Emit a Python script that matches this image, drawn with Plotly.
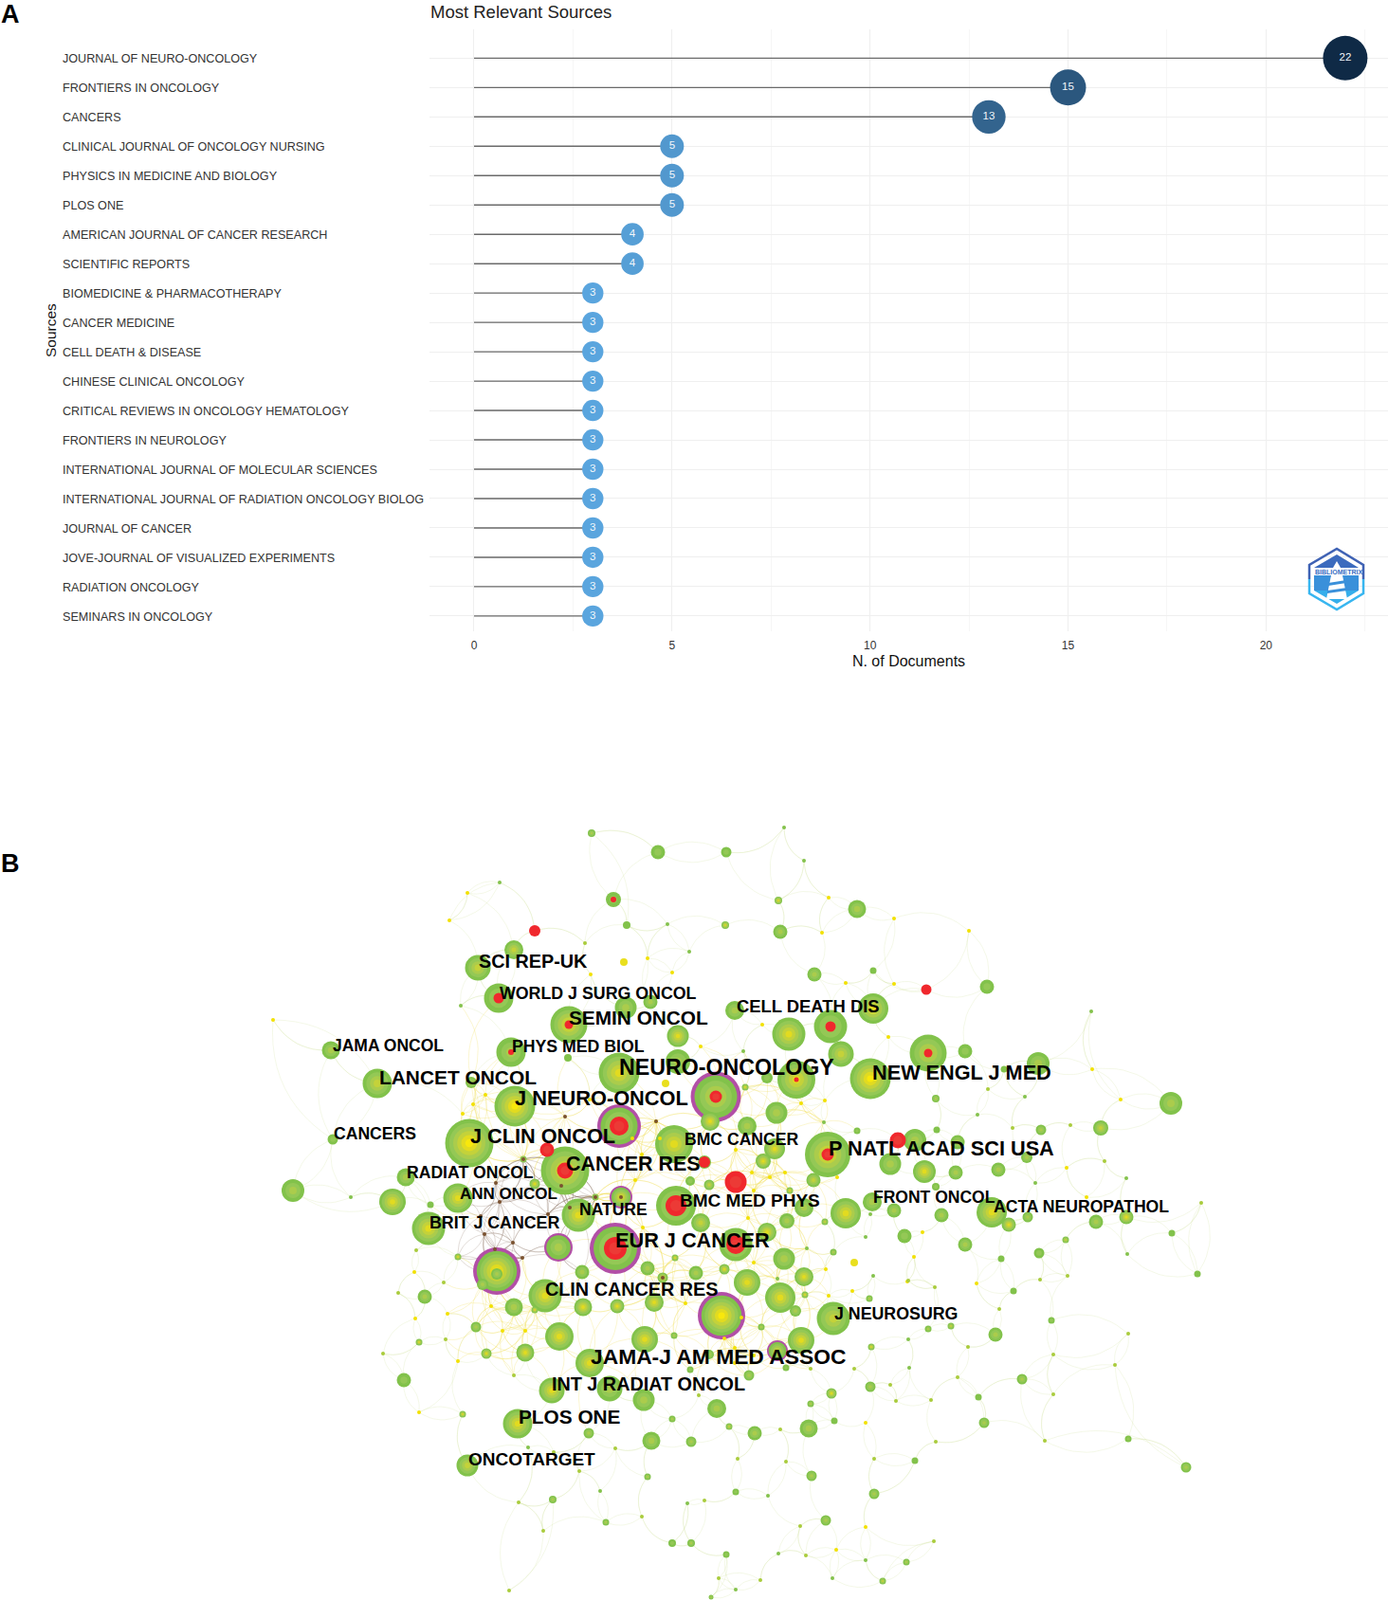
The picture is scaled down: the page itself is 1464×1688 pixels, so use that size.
import numpy as np
import plotly.graph_objects as go

# panel A - most relevant sources
sources = [
    "JOURNAL OF NEURO-ONCOLOGY", "FRONTIERS IN ONCOLOGY", "CANCERS",
    "CLINICAL JOURNAL OF ONCOLOGY NURSING", "PHYSICS IN MEDICINE AND BIOLOGY", "PLOS ONE",
    "AMERICAN JOURNAL OF CANCER RESEARCH", "SCIENTIFIC REPORTS", "BIOMEDICINE & PHARMACOTHERAPY",
    "CANCER MEDICINE", "CELL DEATH & DISEASE", "CHINESE CLINICAL ONCOLOGY",
    "CRITICAL REVIEWS IN ONCOLOGY HEMATOLOGY", "FRONTIERS IN NEUROLOGY",
    "INTERNATIONAL JOURNAL OF MOLECULAR SCIENCES", "INTERNATIONAL JOURNAL OF RADIATION ONCOLOGY BIOLOG",
    "JOURNAL OF CANCER", "JOVE-JOURNAL OF VISUALIZED EXPERIMENTS", "RADIATION ONCOLOGY", "SEMINARS IN ONCOLOGY",
]
documents = [22, 15, 13, 5, 5, 5, 4, 4, 3, 3, 3, 3, 3, 3, 3, 3, 3, 3, 3, 3]

# panel B - co-citation network (page pixels)
node_x = [624, 694, 647, 661, 542, 504, 526, 660, 686, 600, 715, 349, 539, 599, 715, 653, 398, 497, 543, 653,
          495, 351, 577, 596, 711, 743, 552, 309, 428, 564, 728, 414, 483, 454, 655, 628, 610, 713, 649, 589,
          524, 524, 509, 452, 614, 683, 699, 712, 483, 766, 821, 765, 904, 823, 859, 921, 977, 1041, 775, 921,
          876, 832, 1018, 1095, 1059, 1235, 987, 1098, 1161, 988, 904, 1083, 1010, 1053, 1008, 755, 749, 786, 809, 840,
          819, 788, 817, 805, 748, 776, 833, 858, 873, 947, 965, 939, 975, 887, 979, 918, 848, 892, 920, 943,
          993, 987, 954, 879, 870, 830, 809, 776, 739, 827, 788, 848, 764, 734, 1046, 1064, 1084, 1156, 1188, 1236,
          1263, 1124, 1096, 1056, 1018, 1069, 917, 823, 849, 839, 879, 761, 803, 845, 820, 829, 919, 979, 1003, 1050,
          1109, 1078, 918, 877, 1032, 1038, 1190, 1251, 965, 880, 853, 855, 796, 790, 769, 756, 856, 922, 776, 871,
          766, 956, 931, 448, 575, 542, 564, 615, 651, 690, 502, 590, 680, 711, 442, 513, 554, 622, 426, 582,
          643, 679, 728, 748, 488, 546, 621, 709, 687, 729, 683, 583, 639, 709, 729, 750, 493, 564]
node_y = [879, 899, 949, 976, 1002, 1021, 1053, 1063, 1057, 1081, 1093, 1108, 1110, 1116, 1120, 1132, 1143, 1142, 1167, 1188,
          1206, 1202, 1213, 1235, 1207, 1226, 1223, 1256, 1242, 1249, 1246, 1268, 1264, 1271, 1263, 1263, 1282, 1272, 1317, 1316,
          1341, 1344, 1355, 1296, 1342, 1338, 1348, 1327, 1326, 899, 950, 976, 959, 983, 1028, 1024, 1044, 1041, 1066, 1064,
          1083, 1091, 1109, 1122, 1128, 1164, 1159, 1192, 1190, 1192, 1193, 1221, 1205, 1234, 1237, 1157, 1183, 1147, 1137, 1139,
          1174, 1188, 1212, 1225, 1250, 1247, 1256, 1245, 1218, 1203, 1203, 1228, 1236, 1112, 1111, 1138, 1274, 1280, 1268, 1277,
          1282, 1252, 1304, 1321, 1289, 1288, 1300, 1313, 1290, 1328, 1353, 1347, 1339, 1343, 1279, 1292, 1284, 1289, 1284, 1301,
          1344, 1308, 1322, 1328, 1313, 1362, 1370, 1369, 1366, 1383, 1391, 1388, 1400, 1414, 1425, 1443, 1421, 1402, 1399, 1408,
          1393, 1455, 1463, 1470, 1474, 1501, 1518, 1548, 1541, 1499, 1507, 1481, 1512, 1451, 1505, 1486, 1557, 1576, 1574, 1604,
          1640, 1648, 1668, 1368, 1367, 1379, 1382, 1379, 1378, 1374, 1400, 1410, 1413, 1409, 1416, 1428, 1427, 1438, 1456, 1467,
          1465, 1477, 1445, 1429, 1492, 1502, 1512, 1497, 1520, 1521, 1558, 1582, 1606, 1628, 1628, 1685, 1546, 982]
node_size = [8, 15, 16, 8, 20, 27, 31, 23, 15, 39, 23, 19, 31, 8, 26, 43, 31, 12, 43, 46,
             51, 11, 15, 51, 40, 14, 7, 24, 19, 11, 10, 28, 31, 7, 24, 7, 35, 42, 54, 30,
             50, 12, 12, 35, 15, 15, 11, 7, 7, 11, 8, 8, 19, 15, 15, 7, 11, 15, 20, 32,
             35, 35, 15, 24, 7, 24, 8, 11, 16, 7, 7, 12, 15, 15, 15, 53, 20, 7, 12, 40,
             23, 20, 22, 16, 11, 23, 7, 15, 48, 17, 24, 23, 24, 27, 39, 43, 20, 32, 20, 15,
             15, 8, 15, 7, 7, 16, 20, 35, 20, 23, 28, 20, 11, 15, 32, 15, 11, 15, 15, 7,
             7, 7, 11, 7, 15, 7, 7, 32, 7, 12, 35, 50, 7, 28, 22, 7, 7, 7, 7, 15,
             7, 11, 11, 11, 7, 11, 7, 11, 7, 7, 19, 7, 15, 11, 7, 20, 11, 11, 7, 11,
             7, 7, 7, 15, 35, 19, 7, 19, 15, 20, 11, 30, 28, 7, 7, 11, 19, 30, 15, 27,
             27, 23, 7, 10, 7, 31, 11, 7, 19, 11, 7, 8, 7, 8, 8, 5, 23, 12]
node_heat = [.3, .2, .2, .1, .6, .6, .5, .5, .4, .7, .9, .5, .5, .1, .4, .9, .6, .3, 1, .6,
             1, .2, 0, .7, .9, .3, .8, .4, .5, .9, .2, .7, .7, .1, .9, .8, .9, .6, .6, .5,
             1, .4, .3, .9, .4, .5, .8, .9, .8, .2, .7, .7, .4, .3, .5, .1, 0, .2, .4, .8,
             .5, .9, .2, .5, .1, .4, .3, .4, .6, .1, .2, .3, .5, .3, .3, .6, .9, .7, .2, .9,
             .3, .4, .7, .7, .6, 0, .9, .6, .9, 0, .5, .5, .7, .6, .6, 1, .5, .8, .5, .4,
             .4, .2, .2, .4, .6, .5, .8, .6, .6, .5, .8, .7, .9, .5, .8, .9, .5, .3, .7, .1,
             .1, .6, .2, .1, .3, .1, .5, .8, .7, .3, .6, 1, .3, .8, .6, .2, .7, .3, .6, .3,
             .2, .3, .3, .8, .1, .3, .2, .3, .1, .1, .4, .4, .4, .5, .6, .5, .4, .3, .2, .3,
             .2, .3, .6, .3, .9, .5, .8, .8, .7, .7, .5, .7, .7, .3, .8, .9, .7, .7, .2, .7,
             .5, .4, .2, .3, .7, .7, .3, .4, .4, .3, .4, .4, .3, .2, .3, .4, .6, 0]

burst_x = [647, 526, 600, 539, 653, 577, 596, 743, 713, 649, 977, 876, 755, 840, 873, 947, 979, 776, 776, 564]
burst_y = [949, 1053, 1081, 1110, 1188, 1213, 1235, 1226, 1272, 1317, 1044, 1083, 1157, 1139, 1218, 1203, 1111, 1247, 1313, 982]
burst_size = [6, 11, 9, 6, 20, 15, 17, 12, 22, 24, 11, 11, 13, 5, 13, 17, 9, 23, 20, 12]

ring_x = [653, 655, 649, 589, 524, 755, 761, 820]
ring_y = [1188, 1263, 1317, 1316, 1341, 1157, 1388, 1425]

yellow_x = [493, 474, 683, 709, 623, 288, 874, 943, 867, 892, 943, 804, 937, 1022, 1152, 1182, 845, 870, 1125, 1146,
            973, 964, 871, 899, 874, 1030, 437, 518, 472, 438, 530, 554, 483, 442, 913, 913, 882, 499, 512, 488,
            622, 692, 696, 670, 677, 667, 678, 789, 795, 793, 812, 828, 795, 883, 776, 739, 957, 723, 782, 775,
            775, 795, 764]
yellow_y = [942, 971, 1011, 1026, 1028, 1076, 947, 969, 984, 1037, 1038, 1081, 1094, 982, 1128, 1160, 1164, 1161, 1232, 1263,
            1300, 1326, 1339, 1362, 1367, 1354, 1342, 1378, 1386, 1391, 1404, 1404, 1436, 1490, 1501, 1611, 1635, 1165, 1155, 1175,
            1160, 1183, 1201, 1245, 1218, 1201, 1295, 1285, 1332, 1237, 1242, 1237, 1256, 1242, 1213, 1104, 1352, 1375, 1390, 1422,
            1438, 1430, 1412]
blob_x = [658, 702, 901]
blob_y = [1015, 1143, 1332]

lime_x = [1042, 1068, 1129, 1267, 1165, 1126, 1097, 986, 958, 1054, 1190, 1111, 1176, 1021, 1010, 939, 855, 901, 945, 982,
          987, 1102, 1111, 823, 778, 829, 922, 844, 850, 985, 802, 758, 617, 439, 468, 420, 470, 404, 542, 737,
          584, 611, 547, 743, 677, 573, 537, 649]
lime_y = [1149, 1190, 1187, 1269, 1225, 1346, 1350, 1358, 1351, 1381, 1407, 1429, 1440, 1421, 1453, 1461, 1444, 1444, 1478, 1477,
          1521, 1520, 1471, 1508, 1539, 1542, 1539, 1610, 1641, 1626, 1667, 1665, 995, 1319, 1353, 1364, 1413, 1428, 1451, 1472,
          1532, 1552, 1585, 1583, 1600, 1615, 1678, 1528]
green_x = [527, 704, 727, 486, 827, 848, 1151, 784, 1081, 1031, 869, 1188, 1092, 1189, 921, 851, 820, 370, 913, 918,
           958, 959, 810, 821, 913, 878, 776, 557, 633, 725]
green_y = [931, 975, 1004, 1061, 873, 908, 1067, 1109, 1157, 1176, 1184, 1243, 1248, 1323, 1346, 1317, 1349, 1263, 1305, 1281,
           1413, 1443, 1578, 1639, 1646, 1665, 1677, 1527, 1573, 1586]
brown_x = [523, 527, 507, 511, 541, 578, 522, 551, 592, 552, 628, 601, 655, 699, 596, 692]
brown_y = [1248, 1268, 1283, 1302, 1311, 1281, 1318, 1327, 1251, 1223, 1263, 1274, 1263, 1348, 1178, 1183]

labels = ["SCI REP-UK", "WORLD J SURG ONCOL", "SEMIN ONCOL", "JAMA ONCOL", "PHYS MED BIOL", "NEURO-ONCOLOGY",
          "LANCET ONCOL", "J NEURO-ONCOL", "CANCERS", "J CLIN ONCOL", "CANCER RES", "RADIAT ONCOL", "ANN ONCOL",
          "NATURE", "BRIT J CANCER", "EUR J CANCER", "CLIN CANCER RES", "JAMA-J AM MED ASSOC", "INT J RADIAT ONCOL",
          "PLOS ONE", "ONCOTARGET", "CELL DEATH DIS", "NEW ENGL J MED", "BMC CANCER", "P NATL ACAD SCI USA",
          "BMC MED PHYS", "FRONT ONCOL", "ACTA NEUROPATHOL", "J NEUROSURG"]
label_x = [505, 527, 600, 351, 540, 653, 400, 543, 352, 496, 597, 429, 485, 611, 453, 649, 575, 623, 582, 547, 494,
           777, 920, 722, 874, 717, 921, 1048, 880]
label_y = [1016, 1050, 1076, 1105, 1106, 1128, 1139, 1161, 1198, 1201, 1230, 1239, 1261, 1278, 1292, 1311, 1362, 1433,
           1462, 1497, 1541, 1063, 1134, 1204, 1214, 1268, 1265, 1275, 1388]
label_size = [19.8, 17.8, 20.8, 17.5, 17.7, 23.2, 20.9, 21.8, 17.6, 21.7, 21.4, 17.6, 17, 17.5, 17.8, 21.7, 19.8, 22.8,
              19.8, 20.8, 19, 18.4, 21.7, 17.6, 21.7, 19, 17.5, 17.6, 17.8]

assert len(node_x) == len(node_y) == len(node_size) == len(node_heat)
assert len(yellow_x) == len(yellow_y) and len(lime_x) == len(lime_y) and len(green_x) == len(green_y)
assert len(burst_x) == len(burst_y) == len(burst_size) and len(brown_x) == len(brown_y)
assert len(labels) == len(label_x) == len(label_y) == len(label_size)

FONT = "Liberation Sans"
rings = ["#82C24B", "#94C856", "#ABCC4C", "#C4D23A", "#E2DB20", "#F8E80C"]

fig = go.Figure()

# lollipops
stem_x, stem_y = [], []
for name, val in zip(sources, documents):
    stem_x += [0, val, None]
    stem_y += [name, name, None]
fig.add_trace(go.Scatter(x=stem_x, y=stem_y, mode="lines", line=dict(color="#6a6a6a", width=1.4)))
fig.add_trace(go.Scatter(
    x=documents, y=sources, mode="markers+text", text=documents, textposition="middle center",
    textfont=dict(family=FONT, size=11.5, color="#f2f6fa"),
    marker=dict(size=[18.5 + 1.295 * v for v in documents], color=documents, cmin=3, cmax=22, opacity=1,
                colorscale=[[0, "#5AA5DE"], [1, "#0F2A46"]], line=dict(width=0)),
))
# source names sit left aligned, so they go in as annotations
for name in sources:
    fig.add_annotation(x=64, xref="x2", y=name, yref="y", yshift=-1, text=name, showarrow=False, xanchor="left",
                       font=dict(family=FONT, size=12.6, color="#333333"))

# network edges, each point joined to its nearest neighbours with a bent line
all_x = np.array(node_x + yellow_x + lime_x + green_x + brown_x, dtype=float)
all_y = np.array(node_y + yellow_y + lime_y + green_y + brown_y, dtype=float)
edges = {"outer": ([], []), "core": ([], []), "brown": ([], [])}
t = np.linspace(0, 1, 13)
for i in range(len(all_x)):
    dist = np.hypot(all_x - all_x[i], all_y - all_y[i])
    central = abs(all_x[i] - 680) < 190 and abs(all_y[i] - 1290) < 150
    k = 9 if central else 3
    for n, j in enumerate(np.argsort(dist)[1:k + 1]):
        if dist[j] < 1:
            continue
        in_brown = all(480 < all_x[m] < 630 and 1215 < all_y[m] < 1345 for m in (i, j))
        group = "brown" if in_brown else "core" if central else "outer"
        dx, dy = all_x[j] - all_x[i], all_y[j] - all_y[i]
        bend = 0.3 if (i + n) % 2 else -0.3
        cx = (all_x[i] + all_x[j]) / 2 - dy * bend
        cy = (all_y[i] + all_y[j]) / 2 + dx * bend
        xs = (1 - t) ** 2 * all_x[i] + 2 * t * (1 - t) * cx + t ** 2 * all_x[j]
        ys = (1 - t) ** 2 * all_y[i] + 2 * t * (1 - t) * cy + t ** 2 * all_y[j]
        edges[group][0].extend(list(xs) + [None])
        edges[group][1].extend(list(ys) + [None])
edge_colors = {"outer": "rgba(195,215,130,0.26)", "core": "rgba(240,222,80,0.38)", "brown": "rgba(115,85,65,0.3)"}
for group, (ex, ey) in edges.items():
    fig.add_trace(go.Scatter(x=ex, y=ey, xaxis="x2", yaxis="y2", mode="lines",
                             line=dict(color=edge_colors[group], width=0.7)))

# nodes are stacks of circles, largest first so the small ones stay visible
bursts = {(x, y): s for x, y, s in zip(burst_x, burst_y, burst_size)}
purple = set(zip(ring_x, ring_y))
px, py, ps, pc = [], [], [], []
for i in np.argsort(node_size)[::-1]:
    x, y, d, heat = node_x[i], node_y[i], node_size[i], node_heat[i]
    burst = bursts.get((x, y), 0)
    if (x, y) in purple:
        px.append(x), py.append(y), ps.append(d), pc.append("#B24FA6")
        d = d * 0.85
    if burst < d:
        steps = round(heat * 5)
        for s in range(steps + 1):
            px.append(x), py.append(y), ps.append(d * (1 - s / (steps + 1))), pc.append(rings[s])
    if burst:
        px.append(x), py.append(y), ps.append(burst), pc.append("#F0282D")
        if burst > 12:
            px.append(x), py.append(y), ps.append(burst * 0.55), pc.append("#EC3A36")
fig.add_trace(go.Scatter(x=blob_x, y=blob_y, xaxis="x2", yaxis="y2", mode="markers",
                         marker=dict(size=8, color="#E9DF1E", opacity=1, line=dict(width=0))))
fig.add_trace(go.Scatter(x=px, y=py, xaxis="x2", yaxis="y2", mode="markers",
                         marker=dict(size=ps, color=pc, opacity=1, line=dict(width=0))))
for dot_x, dot_y, color in [(yellow_x, yellow_y, "#F2E100"), (lime_x, lime_y, "#A9CC3C"),
                            (green_x, green_y, "#84C24C"), (brown_x, brown_y, "#7A5230")]:
    fig.add_trace(go.Scatter(x=dot_x, y=dot_y, xaxis="x2", yaxis="y2", mode="markers",
                             marker=dict(size=4, color=color, opacity=1, line=dict(width=0))))

fig.add_trace(go.Scatter(
    x=label_x, y=label_y, text=labels, xaxis="x2", yaxis="y2", mode="text", textposition="middle right",
    textfont=dict(family=FONT, size=label_size, color="#000000", weight="bold"),
))

# bibliometrix badge
logo_bands = [
    ("M1410 585 L1433 599 L1386 599 Z", "#3C6BBE"),
    ("M1386 607 L1433 607 L1433 623 L1386 623 Z", "#3A90DA"),
    ("M1386 623 L1433 623 L1410 637 Z", "#35AEEB"),
    ("M1410 592 L1414 599 L1406 599 Z", "#FFFFFF"),
    ("M1404 607 L1416 607 L1421 632 L1399 632 Z", "#FFFFFF"),
    ("M1401 615 L1420 612 L1420 615 L1401 618 Z", "#3A90DA"),
    ("M1400 623 L1421 620 L1421 623 L1400 626 Z", "#3A90DA"),
]
shapes = [dict(type="path", path=p, xref="x2", yref="y2", fillcolor=c, line=dict(width=0)) for p, c in logo_bands]
shapes.append(dict(type="path", path="M1381 611 L1381 596 L1410 579 L1438 596 L1438 611", xref="x2", yref="y2",
                   line=dict(color="#3F62B4", width=2.5)))
shapes.append(dict(type="path", path="M1381 611 L1381 626 L1410 643 L1438 626 L1438 611", xref="x2", yref="y2",
                   line=dict(color="#38B6F0", width=2.5)))

page_text = [
    ("A", 0, 15, 27, "bold", "#000000"), ("B", 0, 911, 27, "bold", "#000000"),
    ("Most Relevant Sources", 453, 12, 18.5, "normal", "#222222"),
    ("BIBLIOMETRIX", 1386, 603, 7, "bold", "#3A6FC4"),
]
for text, x, y, size, weight, color in page_text:
    fig.add_annotation(x=x, y=y, xref="x2", yref="y2", text=text, showarrow=False, xanchor="left", borderpad=0,
                       font=dict(family=FONT, size=size, color=color, weight=weight))
fig.add_annotation(x=53, y=349, xref="x2", yref="y2", text="Sources", showarrow=False, textangle=-90,
                   font=dict(family=FONT, size=15.5, color="#111111"))

fig.update_layout(
    width=1464, height=1688, margin=dict(l=0, r=0, t=0, b=0), showlegend=False,
    paper_bgcolor="white", plot_bgcolor="rgba(0,0,0,0)", shapes=shapes,
    xaxis=dict(domain=[453 / 1464, 1], range=[-1.125, 23.08], tick0=0, dtick=5, showgrid=True, gridcolor="#EFEFEF",
               gridwidth=1.4, zeroline=False, ticks="outside", ticklen=4, tickcolor="rgba(0,0,0,0)",
               tickfont=dict(family=FONT, size=12, color="#333333"),
               minor=dict(tick0=2.5, dtick=5, showgrid=True, gridcolor="#F6F6F6", gridwidth=1),
               title=dict(text="N. of Documents", standoff=4, font=dict(family=FONT, size=16, color="#111111"))),
    yaxis=dict(domain=[1 - 666 / 1688, 1 - 31 / 1688], type="category", categoryorder="array", categoryarray=sources,
               range=[19.52, -0.98], showgrid=True, gridcolor="#EFEFEF", gridwidth=1.4, zeroline=False,
               showticklabels=False, ticks=""),
    xaxis2=dict(domain=[0, 1], range=[0, 1464], visible=False, anchor="y2"),
    yaxis2=dict(domain=[0, 1], range=[1688, 0], visible=False, anchor="x2"),
)
fig.write_html("out.html", post_script="document.body.style.margin='0';", config={"displayModeBar": False})
